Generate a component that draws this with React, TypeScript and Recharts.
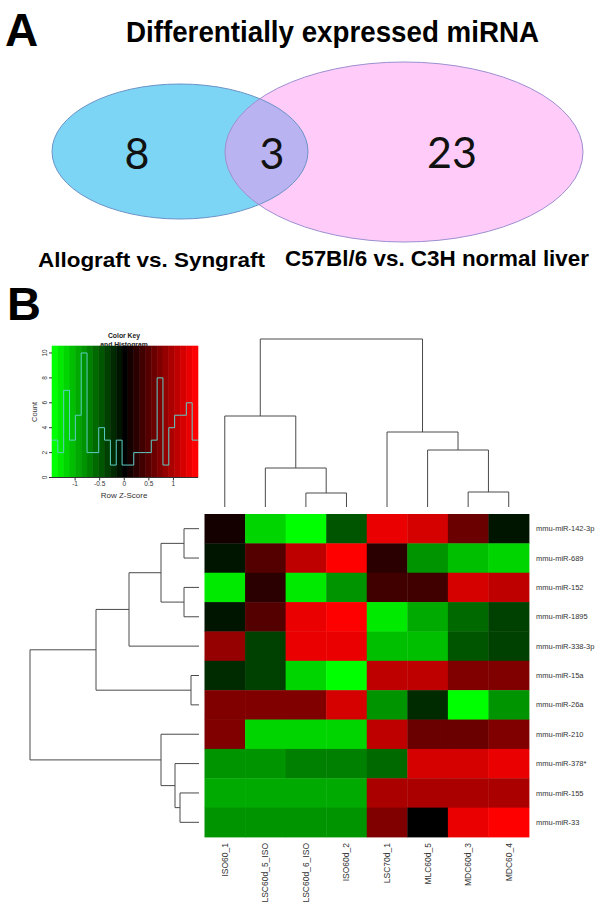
import {
  ScatterChart,
  Scatter,
  XAxis,
  YAxis,
  ComposedChart,
  Line,
  ReferenceArea,
} from 'recharts';

// ---------- Panel A: Venn counts ----------
const SET_NAMES = ['Allograft vs. Syngraft', 'C57Bl/6 vs. C3H normal liver'];
const VENN_COUNTS = [8, 3, 23]; // left only, shared, right only

// ---------- Panel B: heatmap ----------
const SAMPLES = [
  'ISO60_1',
  'LSC60d_5_ISO',
  'LSC60d_6_ISO',
  'ISO60d_2',
  'LSC70d_1',
  'MLC60d_5',
  'MDC60d_3',
  'MDC60_4',
];

const MIRNAS = [
  'mmu-miR-142-3p',
  'mmu-miR-689',
  'mmu-miR-152',
  'mmu-miR-1895',
  'mmu-miR-338-3p',
  'mmu-miR-15a',
  'mmu-miR-26a',
  'mmu-miR-210',
  'mmu-miR-378*',
  'mmu-miR-155',
  'mmu-miR-33',
];

// row z-scores, one array per miRNA, columns in SAMPLES order
const Z_142_3P = [0.13, -1.2, -1.42, -0.46, 1.32, 1.2, 0.61, -0.1];
const Z_689 = [-0.1, 0.44, 1.08, 1.44, 0.25, -0.8, -1.05, -1.2];
const Z_152 = [-1.25, 0.2, -1.3, -0.8, 0.37, 0.37, 1.2, 1.08];
const Z_1895 = [-0.1, 0.49, 1.32, 1.44, -1.3, -0.93, -0.58, -0.34];
const Z_338_3P = [0.85, -0.34, 1.32, 1.32, -1.05, -1.05, -0.46, -0.3];
const Z_15A = [-0.25, -0.34, -1.2, -1.42, 1.08, 1.08, 0.73, 0.73];
const Z_26A = [0.73, 0.73, 0.73, 1.2, -0.8, -0.22, -1.42, -0.8];
const Z_210 = [0.73, -1.2, -1.2, -1.2, 1.08, 0.61, 0.61, 0.73];
const Z_378 = [-0.8, -0.8, -0.7, -0.7, -0.58, 1.2, 1.2, 1.32];
const Z_155 = [-0.93, -0.93, -0.93, -0.93, 0.96, 0.96, 0.96, 0.96];
const Z_33 = [-0.8, -0.8, -0.8, -0.8, 0.7, 0, 1.32, 1.44];

const HEATMAP = [
  Z_142_3P, Z_689, Z_152, Z_1895, Z_338_3P, Z_15A,
  Z_26A, Z_210, Z_378, Z_155, Z_33,
];

// hclust-style merges: negative = leaf (1-based), positive = earlier merge
const COL_MERGES = [[-3, -4], [-7, -8], [-2, 1], [-6, 2], [-5, 4], [-1, 3], [6, 5]];
const COL_HEIGHTS = [0.7, 0.75, 1.95, 2.85, 3.75, 4.55, 8.4];

const ROW_MERGES = [
  [-1, -2], [-3, -4], [-6, -7], [-10, -11], [1, 2],
  [-9, 4], [5, -5], [-8, 6], [7, 3], [9, 8],
];
const ROW_HEIGHTS = [0.75, 0.75, 0.4, 0.95, 1.9, 1.2, 3.5, 1.9, 5.15, 8.45];

// color key + histogram
const KEY_MIN = -1.47;
const KEY_MAX = 1.5;
const HIST_COUNTS = [3, 2, 7, 3, 5, 10, 2, 2, 4, 3, 1, 3, 1, 1, 2, 2, 2, 3, 8, 1, 4, 5, 5, 6, 3];
const KEY_X_TICKS = [-1, -0.5, 0, 0.5, 1];
const KEY_Y_TICKS = [0, 2, 4, 6, 8, 10];

// ---------- layout / styles ----------
const FONT = '"Liberation Sans", Arial, sans-serif';
const LABEL = '#333333';
const DENDRO = '#4a4a4a';
const HIST_LINE = '#5ccfc6';
const HEAT_W = 324.5;
const HEAT_H = 323;
const CELL_W = HEAT_W / SAMPLES.length;
const CELL_H = HEAT_H / MIRNAS.length;

const VENN_SHAPES = [
  { x: 180, y: 151.5, rx: 128, ry: 67.5, fill: '#7dd5f5', stroke: '#6a93c8' },
  { x: 404, y: 152, rx: 179, ry: 90, fill: '#ffccfa', stroke: '#9b8fd0' },
];
const VENN_COUNT_POS = [
  { x: 137, y: 153 },
  { x: 272, y: 153 },
  { x: 452, y: 152 },
];

const N_BINS = HIST_COUNTS.length;
const BIN_W = (KEY_MAX - KEY_MIN) / N_BINS;
const MID_BIN = Math.floor(N_BINS / 2);

function binColor(i: number): string {
  if (i < MID_BIN) {
    const g = Math.round((255 * (MID_BIN - i)) / MID_BIN);
    return `rgb(0,${g},0)`;
  }
  if (i > MID_BIN) {
    const r = Math.round((255 * (i - MID_BIN)) / (N_BINS - 1 - MID_BIN));
    return `rgb(${r},0,0)`;
  }
  return 'rgb(0,0,0)';
}

function zColor(z: number): string {
  const i = Math.min(N_BINS - 1, Math.max(0, Math.floor((z - KEY_MIN) / BIN_W)));
  return binColor(i);
}

type Pt = { p: number; h: number };

function dendroSegments(merges: number[][], heights: number[]): Pt[][] {
  const pos: number[] = [];
  const childPos = (c: number) => (c < 0 ? -c - 1 : pos[c - 1]);
  const childH = (c: number) => (c < 0 ? 0 : heights[c - 1]);
  return merges.map(([a, b], k) => {
    const pa = childPos(a);
    const pb = childPos(b);
    const h = heights[k];
    pos[k] = (pa + pb) / 2;
    return [
      { p: pa, h: childH(a) },
      { p: pa, h },
      { p: pb, h },
      { p: pb, h: childH(b) },
    ];
  });
}

const NoDot = () => <g />;

// ---------- Panel A ----------
function VennChart() {
  const shared = [{ ...VENN_SHAPES[0], clip: VENN_SHAPES[1] }];
  const counts = VENN_COUNTS.map((n, i) => ({ ...VENN_COUNT_POS[i], n }));
  return (
    <ScatterChart width={605} height={290} margin={{ top: 0, right: 0, bottom: 0, left: 0 }}>
      <XAxis type="number" dataKey="x" domain={[0, 605]} hide />
      <YAxis type="number" dataKey="y" domain={[0, 290]} reversed hide />
      <Scatter
        data={VENN_SHAPES}
        isAnimationActive={false}
        shape={(p: any) => (
          <ellipse cx={p.cx} cy={p.cy} rx={p.payload.rx} ry={p.payload.ry} fill={p.payload.fill} />
        )}
      />
      <Scatter
        data={shared}
        isAnimationActive={false}
        shape={(p: any) => {
          const c = p.payload.clip;
          const dx = c.x - p.payload.x;
          const dy = c.y - p.payload.y;
          return (
            <g>
              <defs>
                <clipPath id="venn-right">
                  <ellipse cx={p.cx + dx} cy={p.cy + dy} rx={c.rx} ry={c.ry} />
                </clipPath>
              </defs>
              <ellipse
                cx={p.cx}
                cy={p.cy}
                rx={p.payload.rx}
                ry={p.payload.ry}
                fill="#bab3f1"
                clipPath="url(#venn-right)"
              />
            </g>
          );
        }}
      />
      <Scatter
        data={VENN_SHAPES}
        isAnimationActive={false}
        shape={(p: any) => (
          <ellipse
            cx={p.cx}
            cy={p.cy}
            rx={p.payload.rx}
            ry={p.payload.ry}
            fill="none"
            stroke={p.payload.stroke}
            strokeWidth={1}
          />
        )}
      />
      <Scatter
        data={counts}
        isAnimationActive={false}
        shape={(p: any) => (
          <text
            x={p.cx}
            y={p.cy + 15.5}
            textAnchor="middle"
            fontFamily="Lato, 'Open Sans', sans-serif"
            fontSize={43}
            fill="#111"
          >
            {p.payload.n}
          </text>
        )}
      />
    </ScatterChart>
  );
}

// ---------- Color key ----------
function KeyYTick({ x, y, payload }: any) {
  return (
    <text
      x={x}
      y={y}
      transform={`rotate(-90 ${x} ${y})`}
      textAnchor="middle"
      fontSize={6.5}
      fill={LABEL}
      fontFamily={FONT}
    >
      {payload.value}
    </text>
  );
}

function ColorKey() {
  const edges = Array.from({ length: N_BINS + 1 }, (_, i) => KEY_MIN + i * BIN_W);
  const hist = edges.map((z, i) => ({ z, count: HIST_COUNTS[Math.min(i, N_BINS - 1)] }));
  return (
    <ComposedChart
      width={205}
      height={185}
      data={hist}
      margin={{ top: 26, right: 7, bottom: 0, left: 0 }}
    >
      <XAxis
        type="number"
        dataKey="z"
        domain={[KEY_MIN, KEY_MAX]}
        ticks={KEY_X_TICKS}
        interval={0}
        height={27.5}
        tickSize={3}
        tickMargin={1}
        axisLine={{ stroke: '#333' }}
        tickLine={{ stroke: '#333' }}
        tick={{ fontSize: 6.5, fill: LABEL, fontFamily: FONT }}
        allowDataOverflow
      />
      <YAxis
        type="number"
        domain={[0, 10.56]}
        ticks={KEY_Y_TICKS}
        interval={0}
        width={52}
        tickSize={3}
        tickMargin={2}
        axisLine={false}
        tickLine={{ stroke: '#333' }}
        tick={<KeyYTick />}
        allowDataOverflow
      />
      {edges.slice(0, -1).map((e, i) => (
        <ReferenceArea
          key={i}
          x1={e}
          x2={edges[i + 1]}
          y1={0}
          y2={10.56}
          fill={binColor(i)}
          fillOpacity={1}
          stroke={binColor(i)}
          strokeWidth={0.6}
        />
      ))}
      <Line
        dataKey="count"
        type="stepAfter"
        stroke={HIST_LINE}
        strokeWidth={1}
        dot={false}
        activeDot={false}
        isAnimationActive={false}
      />
    </ComposedChart>
  );
}

// ---------- Dendrograms ----------
function ColDendrogram() {
  const segs = dendroSegments(COL_MERGES, COL_HEIGHTS);
  return (
    <ScatterChart width={405} height={190} margin={{ top: 10, right: 76, bottom: 3, left: 4.5 }}>
      <XAxis type="number" dataKey="p" domain={[-0.5, SAMPLES.length - 0.5]} hide />
      <YAxis type="number" dataKey="h" domain={[0, 8.85]} hide />
      {segs.map((s, i) => (
        <Scatter
          key={i}
          data={s}
          line={{ stroke: DENDRO, strokeWidth: 1 }}
          shape={NoDot}
          isAnimationActive={false}
        />
      ))}
    </ScatterChart>
  );
}

function RowDendrogram() {
  const segs = dendroSegments(ROW_MERGES, ROW_HEIGHTS);
  return (
    <ScatterChart width={204} height={403} margin={{ top: 9, right: 5, bottom: 71, left: 20 }}>
      <XAxis type="number" dataKey="h" domain={[0, 8.95]} reversed hide />
      <YAxis type="number" dataKey="p" domain={[-0.5, MIRNAS.length - 0.5]} reversed hide />
      {segs.map((s, i) => (
        <Scatter
          key={i}
          data={s}
          line={{ stroke: DENDRO, strokeWidth: 1 }}
          shape={NoDot}
          isAnimationActive={false}
        />
      ))}
    </ScatterChart>
  );
}

// ---------- Heatmap ----------
function ColTick({ x, y, payload }: any) {
  return (
    <text
      x={x}
      y={y}
      transform={`rotate(-90 ${x} ${y})`}
      textAnchor="end"
      dy="0.35em"
      fontSize={8.5}
      fill={LABEL}
      fontFamily={FONT}
    >
      {SAMPLES[payload.value]}
    </text>
  );
}

function RowTick({ x, y, payload }: any) {
  return (
    <text x={x} y={y} dy="0.35em" textAnchor="start" fontSize={7.5} fill={LABEL} fontFamily={FONT}>
      {MIRNAS[payload.value]}
    </text>
  );
}

function Heatmap() {
  const cells = MIRNAS.flatMap((_, r) =>
    SAMPLES.map((__, c) => ({ col: c, row: r, z: HEATMAP[r][c] })),
  );
  return (
    <ScatterChart width={405} height={403} margin={{ top: 9, right: 0, bottom: 0, left: 4.5 }}>
      <XAxis
        type="number"
        dataKey="col"
        domain={[-0.5, SAMPLES.length - 0.5]}
        ticks={SAMPLES.map((_, i) => i)}
        interval={0}
        height={71}
        axisLine={false}
        tickLine={false}
        tickSize={0}
        tickMargin={6}
        tick={<ColTick />}
      />
      <YAxis
        type="number"
        dataKey="row"
        orientation="right"
        domain={[-0.5, MIRNAS.length - 0.5]}
        reversed
        ticks={MIRNAS.map((_, i) => i)}
        interval={0}
        width={76}
        axisLine={false}
        tickLine={false}
        tickSize={0}
        tickMargin={7}
        tick={<RowTick />}
      />
      <Scatter
        data={cells}
        isAnimationActive={false}
        shape={(p: any) => (
          <rect
            x={p.cx - CELL_W / 2}
            y={p.cy - CELL_H / 2}
            width={CELL_W + 0.4}
            height={CELL_H + 0.4}
            fill={zColor(p.payload.z)}
          />
        )}
      />
    </ScatterChart>
  );
}

function Annotations() {
  return (
    <svg
      width={605}
      height={908}
      style={{ position: 'absolute', left: 0, top: 0 }}
      fontFamily={FONT}
    >
      <text x={5} y={46} fontSize={46} fontWeight="bold" fill="#000">A</text>
      <text
        x={126}
        y={42}
        fontSize={30}
        fontWeight="bold"
        fill="#000"
        textLength={413}
        lengthAdjust="spacingAndGlyphs"
      >
        Differentially expressed miRNA
      </text>
      <text
        x={38}
        y={267}
        fontSize={21}
        fontWeight="bold"
        fill="#000"
        textLength={227}
        lengthAdjust="spacingAndGlyphs"
      >
        {SET_NAMES[0]}
      </text>
      <text
        x={285}
        y={266}
        fontSize={21.5}
        fontWeight="bold"
        fill="#000"
        textLength={304}
        lengthAdjust="spacingAndGlyphs"
      >
        {SET_NAMES[1]}
      </text>
      <text x={7} y={320} fontSize={47} fontWeight="bold" fill="#000">B</text>
      <text x={124} y={338} fontSize={6.8} fontWeight="bold" textAnchor="middle" fill="#222">
        Color Key
      </text>
      <text x={124} y={346.5} fontSize={6.8} fontWeight="bold" textAnchor="middle" fill="#222">
        and Histogram
      </text>
      <text
        x={37}
        y={412}
        fontSize={7.5}
        textAnchor="middle"
        fill={LABEL}
        transform="rotate(-90 37 412)"
      >
        Count
      </text>
      <text x={124} y={498} fontSize={8} textAnchor="middle" fill={LABEL}>
        Row Z-Score
      </text>
    </svg>
  );
}

export default function App() {
  return (
    <div
      style={{
        position: 'absolute',
        left: 0,
        top: 0,
        width: 605,
        height: 908,
        background: '#fff',
        overflow: 'hidden',
        fontFamily: FONT,
      }}
    >
      <Annotations />
      <div style={{ position: 'absolute', left: 0, top: 0 }}>
        <VennChart />
      </div>
      <div style={{ position: 'absolute', left: 0, top: 320 }}>
        <ColorKey />
      </div>
      <div style={{ position: 'absolute', left: 200, top: 320 }}>
        <ColDendrogram />
      </div>
      <div style={{ position: 'absolute', left: 0, top: 505 }}>
        <RowDendrogram />
      </div>
      <div style={{ position: 'absolute', left: 200, top: 505 }}>
        <Heatmap />
      </div>
    </div>
  );
}
